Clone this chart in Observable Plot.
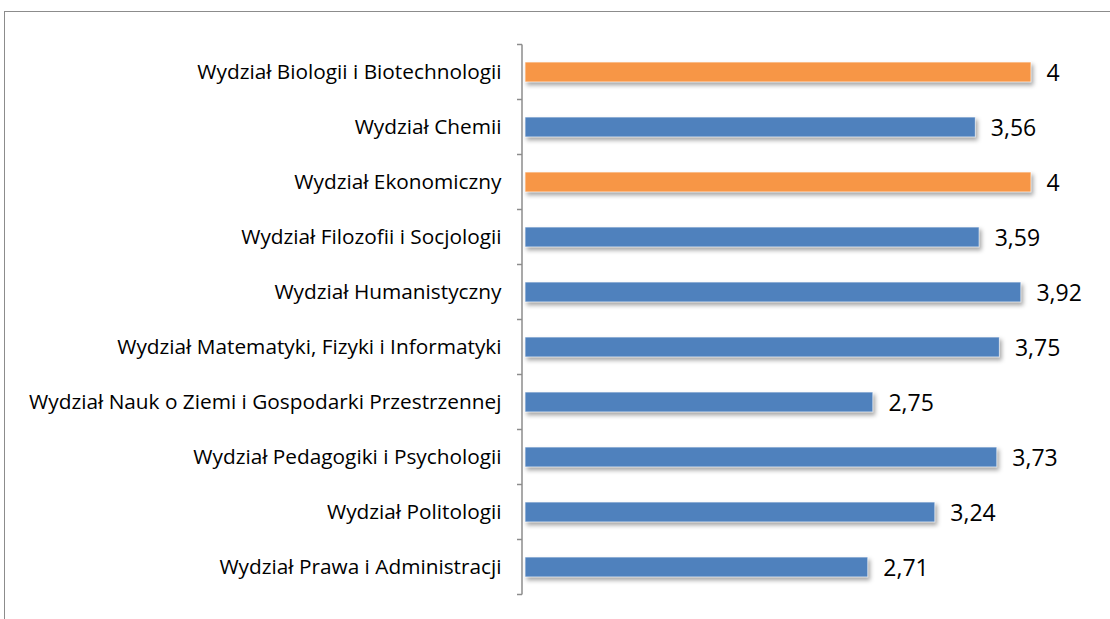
<!DOCTYPE html>
<html><head><meta charset="utf-8">
<script src="https://cdn.jsdelivr.net/npm/d3@7"></script>
<script src="https://cdn.jsdelivr.net/npm/@observablehq/plot@0.6"></script>
<style>
body{margin:0;background:#fff;}
#wrap{position:relative;width:1110px;height:619px;overflow:hidden;}
#frame{position:absolute;left:4px;top:11px;width:1200px;height:700px;border:1.5px solid #8c8c8c;box-sizing:border-box;}
#chart{position:absolute;left:0;top:0;}
.bars rect{filter:drop-shadow(2px 3px 2px rgba(0,0,0,0.35));}
</style></head>
<body><div id="wrap"><div id="frame"></div><div id="chart"></div></div>
<script>
const categories = [
  "Wydział Biologii i Biotechnologii",
  "Wydział Chemii",
  "Wydział Ekonomiczny",
  "Wydział Filozofii i Socjologii",
  "Wydział Humanistyczny",
  "Wydział Matematyki, Fizyki i Informatyki",
  "Wydział Nauk o Ziemi i Gospodarki Przestrzennej",
  "Wydział Pedagogiki i Psychologii",
  "Wydział Politologii",
  "Wydział Prawa i Administracji"
];
const values = [4, 3.56, 4, 3.59, 3.92, 3.75, 2.75, 3.73, 3.24, 2.71];
const highlight = [true, false, true, false, false, false, false, false, false, false];
const data = categories.map((c, i) => ({cat: c, v: values[i], hi: highlight[i]}));
const fmt = v => String(v).replace(".", ",");
const font = "'Open Sans', sans-serif";

const chart = Plot.plot({
  width: 1110, height: 619,
  marginTop: 40, marginBottom: 21, marginLeft: 522, marginRight: 30,
  style: {fontFamily: font, background: "transparent"},
  x: {domain: [0, 4], range: [525, 1031], axis: null},
  y: {domain: categories, paddingInner: 0.64, paddingOuter: 0.32, axis: null},
  marks: [
    Plot.barX(data, {y: "cat", x: "v", fill: d => d.hi ? "#F79646" : "#4F81BD",
      stroke: "#ffffff", strokeOpacity: 0.7, strokeWidth: 1, className: "bars"}),
    Plot.text(data, {y: "cat", x: 0, text: "cat", textAnchor: "end", dx: -24,
      fontSize: 20.8, fill: "#000"}),
    Plot.text(data, {y: "cat", x: "v", text: d => fmt(d.v), textAnchor: "start", dx: 15, dy: 1,
      fontSize: 23, fill: "#000"})
  ]
});
document.getElementById("chart").appendChild(chart);

// y axis line and boundary ticks from the band scale
const ys = chart.scale("y");
const svg = d3.select(chart);
const step = ys.step;
const y0 = ys.apply(categories[0]) - (step - ys.bandwidth) / 2;
const xAxis = 522;
const g = svg.append("g").attr("stroke", "#8c8c8c").attr("stroke-width", 1.5);
g.append("line").attr("x1", xAxis).attr("x2", xAxis).attr("y1", y0).attr("y2", y0 + step * categories.length);
for (let i = 0; i <= categories.length; i++) {
  g.append("line").attr("x1", xAxis - 5).attr("x2", xAxis).attr("y1", y0 + step * i).attr("y2", y0 + step * i);
}
</script></body></html>
